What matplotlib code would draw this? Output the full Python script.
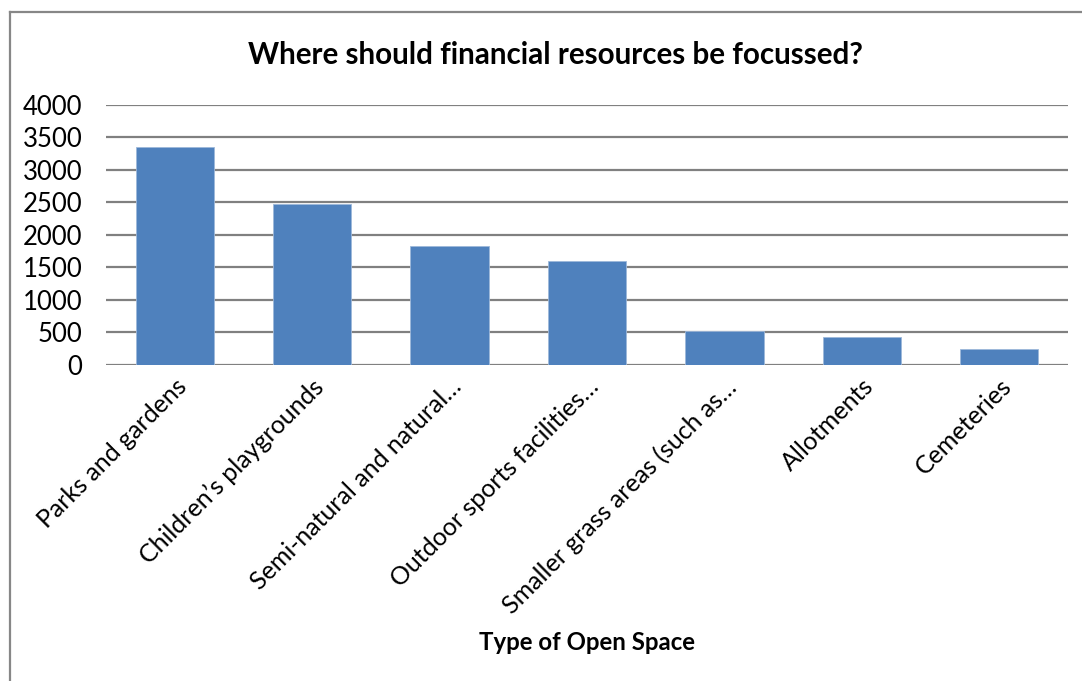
import matplotlib.pyplot as plt
from matplotlib.lines import Line2D

categories = ['Parks and gardens', 'Children\u2019s playgrounds',
              'Semi-natural and natural\u2026', 'Outdoor sports facilities\u2026',
              'Smaller grass areas (such as\u2026', 'Allotments', 'Cemeteries']
responses = [3360, 2470, 1825, 1605, 525, 435, 245]
y_ticks = [0, 500, 1000, 1500, 2000, 2500, 3000, 3500, 4000]

plt.rcParams['font.family'] = ['Lato', 'DejaVu Sans']

W, H = 1082, 681
fig = plt.figure(figsize=(W / 100, H / 100), dpi=100)
ax = fig.add_axes([106 / W, 1 - 365 / H, (1068 - 106) / W, (365 - 105) / H])

x = range(len(categories))
ax.bar(x, responses, width=0.57, color='#4F81BD', edgecolor='#9DB8DA',
       linewidth=0.6, zorder=3)

ax.set_xlim(-0.5, len(categories) - 0.5)
ax.set_ylim(0, 4000)
ax.set_yticks(y_ticks)
ax.set_yticklabels([str(v) for v in y_ticks], fontsize=18.5)
ax.tick_params(axis='y', length=0, pad=17)
ax.yaxis.grid(True, color='#808080', linewidth=1.6, zorder=0)
ax.set_axisbelow(True)
for s in ax.spines.values():
    s.set_visible(False)

ax.set_xticks(list(x))
ax.set_xticklabels(categories, rotation=45, ha='right', va='top',
                   rotation_mode='anchor', fontsize=18)
ax.tick_params(axis='x', length=0, pad=7)

fig.text(555 / W, 1 - 55 / H, 'Where should financial resources be focussed?',
         ha='center', va='center', fontsize=21.3, fontweight='bold')
fig.text(587 / W, 1 - 642 / H, 'Type of Open Space', ha='center', va='center',
         fontsize=17.3, fontweight='bold')

# chart-area frame (left and top edges)
fig.add_artist(Line2D([9.5 / W, 9.5 / W], [0, 1 - 12.3 / H],
                      transform=fig.transFigure, color='#878787', linewidth=1.6))
fig.add_artist(Line2D([9.5 / W, 1], [1 - 12.3 / H, 1 - 12.3 / H],
                      transform=fig.transFigure, color='#878787', linewidth=1.6))

fig.savefig('out.png', dpi=100)
